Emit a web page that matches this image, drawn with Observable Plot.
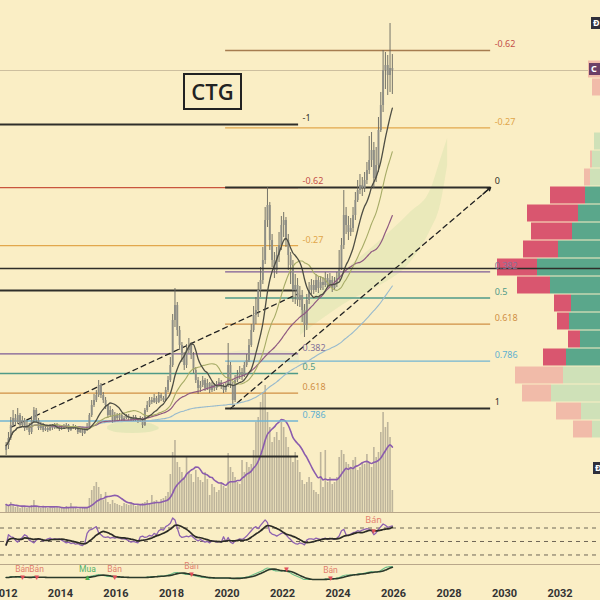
<!DOCTYPE html>
<html><head><meta charset="utf-8">
<script src="https://cdn.jsdelivr.net/npm/d3@7"></script>
<script src="https://cdn.jsdelivr.net/npm/@observablehq/plot@0.6"></script>
<style>
body{margin:0;background:#FAEEC5;}
#wrap{position:relative;width:600px;height:600px;overflow:hidden;background:#FAEEC5;font-family:"Noto Sans",Roboto,sans-serif;}
.sep{position:absolute;left:0;width:600px;height:1px;background:#b9a78a;}
.tag{position:absolute;left:590px;width:30px;height:12px;font:bold 9px "Noto Sans",sans-serif;color:#fff;padding-left:2px;line-height:12px;}
#title{position:absolute;left:183px;top:73px;width:55px;height:33px;border:2px solid #222;font:600 22px "Open Sans",sans-serif;color:#222;text-align:center;line-height:33px;}
</style></head><body>
<div id="wrap"><div id="title">CTG</div></div>
<script>
// ---------- DATA (monthly, Jan 2012 .. Dec 2025) ----------
const startYear = 2012;
const firstOpen = 6.2;
const closes = [
 6.7,7.4,8.7,9.4,9.0,9.7,8.7,9.2,8.4,8.7,8.0,9.2,
 10.2,9.2,8.4,8.7,8.2,8.4,8.2,8.6,8.4,8.7,8.5,8.3,
 8.4,8.5,8.7,8.2,8.4,8.6,8.4,8.0,8.2,7.9,8.2,8.4,
 9.7,10.7,11.2,11.7,12.7,11.7,11.2,10.7,9.7,10.2,9.2,9.7,
 9.4,9.7,9.2,9.4,9.6,9.4,9.2,9.5,9.3,9.1,9.4,8.7,
 10.2,10.7,11.2,11.0,11.4,11.0,11.7,11.4,11.2,12.2,13.2,14.7,
 19.2,20.7,18.2,16.7,15.7,14.7,16.2,16.7,15.7,14.2,13.2,12.4,
 12.7,13.2,12.4,12.9,12.2,12.7,12.4,12.8,13.0,12.6,12.2,12.7,
 14.7,12.7,11.2,13.2,13.7,14.0,13.7,14.7,15.2,16.7,18.2,19.7,
 20.2,22.2,23.2,25.2,29.2,30.7,27.2,25.2,24.2,25.7,26.7,28.7,
 29.2,27.2,25.7,24.7,22.2,22.7,21.2,21.7,20.2,18.7,21.2,22.2,
 22.7,22.2,23.2,22.4,23.0,22.7,23.4,22.7,23.2,22.4,22.9,23.4,
 24.4,26.7,29.7,28.7,28.0,28.4,29.7,31.2,32.2,32.7,32.4,33.2,
 34.2,35.2,36.2,33.4,34.7,38.2,40.7,44.2,44.7,43.7,44.4,44.2];
const highs = [
 7.0,8.0,9.5,10.2,9.8,10.4,9.9,9.6,9.4,9.1,8.9,9.6,
 10.5,10.4,9.4,9.0,8.9,8.7,8.6,8.8,8.8,8.9,8.9,8.7,
 8.6,8.8,8.9,8.8,8.6,8.8,8.7,8.5,8.4,8.3,8.4,8.9,
 9.9,11.2,11.8,12.2,13.2,12.9,12.0,11.5,10.8,10.6,10.3,10.0,
 9.9,9.9,9.8,9.6,9.8,9.8,9.5,9.7,9.7,9.4,9.6,9.5,
 10.4,11.1,11.5,11.5,11.8,11.6,12.0,11.9,11.6,12.5,13.6,15.5,
 19.8,22.4,21.0,18.6,17.0,16.0,16.8,17.4,17.0,16.0,14.5,13.5,
 13.1,13.6,13.4,13.3,13.0,13.0,12.9,13.1,13.4,13.2,12.8,13.0,
 16.9,15.0,13.0,13.7,14.2,14.6,14.4,15.0,15.8,17.3,18.8,20.6,
 21.5,23.0,24.5,26.5,30.5,32.5,31.0,27.8,26.0,26.5,28.0,29.6,
 30.0,29.5,27.8,26.0,25.2,23.8,23.4,22.6,22.2,20.8,21.8,23.0,
 23.3,23.2,23.8,23.6,23.6,23.5,24.0,23.8,23.9,23.6,23.5,24.0,
 26.2,27.4,32.2,30.5,29.6,29.4,30.5,32.0,33.2,33.8,33.5,34.0,
 35.0,37.6,38.0,37.0,36.5,39.5,42.0,46.2,46.0,45.7,48.9,45.8];
const lows = [
 5.7,6.3,7.2,8.5,8.6,8.8,8.4,8.5,8.1,8.2,7.7,7.8,
 9.0,9.0,8.2,8.2,8.0,8.1,8.0,8.1,8.2,8.3,8.3,8.1,
 8.2,8.3,8.4,8.0,8.1,8.3,8.2,7.8,7.9,7.6,7.8,8.1,
 8.3,9.5,10.5,11.0,11.5,11.4,10.9,10.3,9.4,9.5,8.9,9.0,
 9.1,9.2,9.0,9.1,9.3,9.2,9.0,9.1,9.1,8.9,9.0,8.4,
 8.6,10.0,10.5,10.8,10.9,10.8,10.9,11.1,11.0,11.1,12.0,13.0,
 14.5,18.5,17.6,16.2,15.0,14.2,14.4,15.9,15.3,13.9,12.9,11.8,
 12.0,12.5,12.1,12.2,11.9,12.0,12.1,12.2,12.6,12.3,11.9,12.0,
 12.5,12.4,10.4,11.0,13.0,13.3,13.2,13.5,14.5,15.0,16.5,18.0,
 18.8,19.5,21.5,22.8,24.8,28.5,26.2,24.5,23.4,23.8,25.0,26.2,
 27.5,26.5,24.2,22.8,21.0,20.8,20.6,20.5,19.0,17.5,18.2,20.8,
 21.8,21.8,22.0,21.9,22.2,22.2,22.5,22.4,22.5,22.0,22.2,22.5,
 23.2,24.2,26.3,27.8,27.2,27.6,28.0,29.2,31.0,31.8,31.6,32.0,
 32.8,33.8,34.5,32.4,33.0,34.0,38.0,40.0,42.3,41.7,42.0,41.8];
const volumes = [
 8,6,10,7,5,6,4,5,6,4,5,7,
 12,6,5,4,6,5,4,5,4,6,5,4,
 5,4,6,5,9,4,5,3,4,5,4,5,
 14,22,26,30,25,18,12,20,10,8,12,9,
 8,7,6,9,8,7,10,9,6,8,7,9,
 10,12,9,17,11,12,10,13,14,16,20,38,
 60,72,50,45,40,35,55,40,38,30,42,35,
 32,30,40,33,17,28,25,20,22,30,26,24,
 59,45,40,35,30,28,52,40,50,45,48,62,
 90,95,110,120,127,100,85,70,75,80,72,90,
 85,75,65,55,50,60,52,40,32,28,30,35,
 30,22,20,18,60,25,62,30,35,28,30,35,
 55,62,58,50,48,45,52,55,42,45,50,48,
 58,50,45,65,55,60,80,100,85,90,75,22];
const rsiValues = [
 45,60,57,56,52,49,53,56,60,58,52,50,
 48,52,54,53,51,52,54,55,53,54,53,54,
 52,50,48,49,47,48,46,47,45,44,47,62,
 67,68,70,72,63,60,57,56,57,55,56,55,
 56,55,54,54,53,51,49,50,49,48,57,58,
 56,57,59,58,62,60,66,68,67,72,74,77,
 85,82,70,59,56,57,58,57,59,56,53,51,
 53,51,49,50,48,51,50,49,50,49,57,50,
 56,49,47,51,52,54,53,55,58,62,66,70,
 72,69,74,78,82,78,64,61,60,58,60,62,
 63,60,56,53,49,47,46,48,47,45,52,54,
 54,53,55,54,53,54,55,53,55,54,53,55,
 58,66,68,60,59,61,63,64,66,65,67,68,
 69,68,66,60,63,68,72,76,74,71,72,73];
const macdValues = [
 0,0,1,1,1,0.5,0,0,0.5,0,0,0,
 1,0.5,0,0,0,0,0,0,0,0,0,0,
 0,0,0,0,0,0,0,0,0,0,0,0.5,
 1,1.5,2,2.5,3,2.5,2,1.5,1,1,0.5,0.5,
 0.5,0.5,0,0,0,0,0,0,0,0,0,0,
 0,0.5,0.5,1,1,1,1.5,1.5,1.5,2,2.5,3,
 4,5,5,4.5,4,3.5,3,3,2.5,2,1.5,1,
 0.5,0,0,-0.5,-0.5,-0.5,-0.5,-0.5,-0.5,-0.5,-0.5,-0.5,
 -0.5,-1,-1.5,-1,-0.5,-0.5,0,0,0.5,1,2,3,
 4,5,6,7,8.5,9.5,9,8,7,6.5,6.5,6.5,
 7,6.5,5.5,4.5,3,2,1,0,-1,-2,-2,-2,
 -2,-2,-2,-2,-2,-2,-1.5,-1.5,-1.5,-1,-1,-0.5,
 0,1,2,2.5,2.5,2.5,3,3,3.5,4,4,4.5,
 5,5.5,6,5.5,5.5,6,7,8.5,10,10.5,11,11];

// Fibonacci tools (anchor prices: level 0 / level 1)
const fibLevelsLeft  = [-1,-0.62,-0.27,0,0.382,0.5,0.618,0.786,1];
const fibLabelsLeft  = ["-1","-0.62","-0.27","","0.382","0.5","0.618","0.786",""];
const fibLevelsRight = [-0.62,-0.27,0,0.382,0.5,0.618,0.786,1];
const fibLabelsRight = ["-0.62","-0.27","0","0.382","0.5","0.618","0.786","1"];
const leftFib  = {p0: 22.2, p1: 5.6,  t1: 2011.5,  t2: 2022.58};
const rightFib = {p0: 32.5, p1: 10.4, t1: 2019.95, t2: 2029.5};
const fibColor = {"-1":"#2e2e2a","-0.62":"#c9553d","-0.27":"#e2a74c","0":"#2e2e2a","0.382":"#7d5b96","0.5":"#4f9a88","0.618":"#cf8f45","0.786":"#72b4d2","1":"#2e2e2a"};
const fibLabelColor = {"-1":"#2e2e2a","-0.62":"#c4504a","-0.27":"#e0a54a","0":"#2e2e2a","0.382":"#84739a","0.5":"#4f9a88","0.618":"#d08f45","0.786":"#5fb0d0","1":"#2e2e2a"};

// trend lines
const trendUpper = [{t: 2012.2, p: 8.5}, {t: 2022.55, p: 21.85}];
const trendLower = [{t: 2020.13, p: 10.4}, {t: 2029.5, p: 32.5}];

// shaded zones
const zoneCone = {t:[2022.65,2023.37,2024.45,2025.53,2026.61,2027.33,2027.69,2027.95], lo:[17.7,19.2,21.2,22.7,25.0,28.2,30.7,34.7], hi:[20.2,22.2,24.7,27.2,30.0,32.2,35.2,37.4]};
const zone2016 = {t:[2015.7,2016.0,2016.6,2017.2,2017.55], lo:[8.3,8.0,7.9,8.0,8.3], hi:[8.6,8.9,9.0,8.9,8.5]};
const zone2020 = {t:[2020.1,2020.8,2021.6,2022.6], lo:[14.9,14.9,14.9,14.8], hi:[16.0,16.2,16.2,16.0]};

// volume profile
const profBin = 1.8;
const profLow  = [43.4,41.6,36.2,34.4,32.6,30.8,29.0,27.2,25.4,23.6,21.8,20.0,18.2,16.4,14.6,12.8,11.0,9.2,7.4];
const profSell = [12,8,0,2,6,35,51,41,35,40,33,17,12,12,23,48,29,25,19];
const profBuy  = [0,0,6,8,10,15,22,28,42,63,50,29,31,20,34,37,49,19,8];
const profVA   = [0,0,0,0,0,1,1,1,1,1,1,1,1,1,1,0,0,0,0];
const pocPrice = 24.4;

// signals
const rsiSignals = [{t: 2025.28, v: 65, label: "Bán"}];
const macdSignals = [
 {t:2012.63, v:0, type:"sell", label:"Bán"},
 {t:2013.14, v:0, type:"sell", label:"Bán"},
 {t:2014.97, v:0, type:"buy",  label:"Mua"},
 {t:2015.95, v:0.5, type:"sell", label:"Bán"},
 {t:2018.72, v:3, type:"sell", label:"Bán"},
 {t:2022.14, v:8, type:"sell", label:""},
 {t:2023.73, v:-1, type:"sell", label:"Bán"}];
const rsiGuides = [70, 50, 30];
const xTicks = [2012,2014,2016,2018,2020,2022,2024,2026,2028,2030,2032];

// ---------- BUILD ----------
const candles = closes.map((c, i) => ({
  t: startYear + (i + 0.5) / 12,
  open: i === 0 ? firstOpen : closes[i - 1],
  close: c, high: highs[i], low: lows[i],
  vol: volumes[i], rsi: rsiValues[i], macd: macdValues[i]
}));
const lastClose = closes[closes.length - 1];

function fibRowsOf(f, levels, labels, overrides) {
  return levels.map((L, i) => {
    const k = String(L);
    return {t1: f.t1, t2: f.t2, price: f.p0 + L * (f.p1 - f.p0),
      color: (overrides && overrides[k]) || fibColor[k], lc: fibLabelColor[k],
      w: (L === 0 || L === 1 || L === -1) ? 2 : 1.3, label: labels[i]};
  });
}
const fibRows = [
  ...fibRowsOf(leftFib, fibLevelsLeft, fibLabelsLeft),
  ...fibRowsOf(rightFib, fibLevelsRight, fibLabelsRight, {"-0.62": "#a67c50"})
];
const zoneRows = z => z.t.map((t, i) => ({t, lo: z.lo[i], hi: z.hi[i]}));
const profRows = profLow.map((lo, i) => ({lo, hi: lo + profBin, sell: profSell[i], buy: profBuy[i], va: profVA[i]}));
const [ta, tb] = trendLower;
const arrowHead = [{x1: tb.t - (tb.t - ta.t) * 0.03, y1: tb.p - (tb.p - ta.p) * 0.03, x2: tb.t, y2: tb.p}];

const xDomain = [2011.838, 2033.459];
const base = {width: 600, marginLeft: 0, marginRight: 0, marginTop: 0, marginBottom: 0,
  style: {background: "transparent", fontFamily: "'Noto Sans', sans-serif"}};
const wrap = document.getElementById("wrap");
function place(svg, top) { svg.style.position = "absolute"; svg.style.top = top + "px"; svg.style.left = "0px"; wrap.appendChild(svg); }

// volume (overlay in the price pane)
place(Plot.plot({...base, height: 512,
  x: {domain: xDomain, axis: null}, y: {domain: [0, 512], axis: null},
  marks: [
    Plot.ruleX(candles, {x: "t", y: "vol", stroke: "#bdb49b", strokeWidth: 1.6}),
    Plot.lineY(candles, Plot.windowY({k: 12, anchor: "end"}, {x: "t", y: "vol", stroke: "#8b5cad", strokeWidth: 1.6, curve: "monotone-x"}))
  ]}), 0);

// price pane
place(Plot.plot({...base, height: 512,
  x: {domain: xDomain, axis: null}, y: {domain: [0, 51.2], axis: null},
  marks: [
    Plot.ruleY([lastClose], {stroke: "#cdbf9f", strokeWidth: 1}),
    Plot.areaY(zoneRows(zoneCone), {x: "t", y1: "lo", y2: "hi", fill: "#d6e2ad", fillOpacity: 0.45, curve: "monotone-x"}),
    Plot.areaY(zoneRows(zone2016), {x: "t", y1: "lo", y2: "hi", fill: "#d6e2ad", fillOpacity: 0.55, curve: "monotone-x"}),
    Plot.areaY(zoneRows(zone2020), {x: "t", y1: "lo", y2: "hi", fill: "#dfe3c4", fillOpacity: 0.5, curve: "monotone-x"}),
    Plot.ruleY(fibRows, {x1: "t1", x2: "t2", y: "price", stroke: "color", strokeWidth: "w"}),
    Plot.line(trendUpper, {x: "t", y: "p", stroke: "#222", strokeWidth: 1.3, strokeDasharray: "5,4"}),
    Plot.line(trendLower, {x: "t", y: "p", stroke: "#222", strokeWidth: 1.3, strokeDasharray: "5,4"}),
    Plot.arrow(arrowHead, {x1: "x1", y1: "y1", x2: "x2", y2: "y2", stroke: "#222", strokeWidth: 1.3, headLength: 7}),
    Plot.ruleX(candles, {x: "t", y1: "low", y2: "high", stroke: "#66665f", strokeWidth: 0.9}),
    Plot.ruleX(candles, {x: "t", y1: "open", y2: "close", stroke: "#8e8e86", strokeWidth: 1.9}),
    Plot.lineY(candles, Plot.windowY({k: 100, anchor: "end"}, {x: "t", y: "close", stroke: "#98bacd", strokeWidth: 1.1, curve: "monotone-x"})),
    Plot.lineY(candles, Plot.windowY({k: 40, anchor: "end"}, {x: "t", y: "close", stroke: "#8f5a80", strokeWidth: 1.2, curve: "monotone-x"})),
    Plot.lineY(candles, Plot.windowY({k: 20, anchor: "end"}, {x: "t", y: "close", stroke: "#a6ab66", strokeWidth: 1.1, curve: "monotone-x"})),
    Plot.lineY(candles, Plot.windowY({k: 10, anchor: "end"}, {x: "t", y: "close", stroke: "#4e4e44", strokeWidth: 1.3, curve: "monotone-x"}))
  ]}), 0);

// volume profile
place(Plot.plot({...base, height: 512,
  x: {domain: [0, 110], range: [600, 490], axis: null}, y: {domain: [0, 51.2], axis: null},
  marks: [
    Plot.rect(profRows, {x1: d => 0, x2: "buy", y1: "lo", y2: "hi", fill: d => d.va ? "#5aa78b" : "#cfe1b8", insetTop: 0.5, insetBottom: 0.5}),
    Plot.rect(profRows, {x1: "buy", x2: d => d.buy + d.sell, y1: "lo", y2: "hi", fill: d => d.va ? "#d9566f" : "#f1bba9", insetTop: 0.5, insetBottom: 0.5})
  ]}), 0);

// overlay: POC line + fib labels
place(Plot.plot({...base, height: 512,
  x: {domain: xDomain, axis: null}, y: {domain: [0, 51.2], axis: null},
  marks: [
    Plot.ruleY([pocPrice], {stroke: "#2e2e2a", strokeWidth: 1.6}),
    Plot.text(fibRows.filter(d => d.label), {x: "t2", y: "price", text: "label", fill: "lc", textAnchor: "start", dx: 4, dy: -6, fontSize: 9})
  ]}), 0);

// RSI pane
place(Plot.plot({...base, height: 53,
  x: {domain: xDomain, axis: null}, y: {domain: [14.4, 93], axis: null},
  marks: [
    Plot.ruleY(rsiGuides, {stroke: "#5f574a", strokeDasharray: "4,4", strokeWidth: 0.9}),
    Plot.lineY(candles, {x: "t", y: "rsi", stroke: "#8e62b0", strokeWidth: 1.3}),
    Plot.lineY(candles, Plot.windowY({k: 8, anchor: "end"}, {x: "t", y: "rsi", stroke: "#2b2b25", strokeWidth: 1.7, curve: "monotone-x"})),
    Plot.text(rsiSignals, {x: "t", y: "v", text: d => "▼", fill: "#e0505a", fontSize: 8}),
    Plot.text(rsiSignals, {x: "t", y: "v", text: "label", fill: "#e2806e", fontSize: 9, dy: -11})
  ]}), 512);

// MACD-like pane + x axis (panel spans 565..585)
place(Plot.plot({...base, height: 41, marginTop: 6, marginBottom: 15,
  style: {background: "transparent", fontFamily: "Roboto, 'Noto Sans', sans-serif", fontSize: "11px", fontWeight: "bold", color: "#333"},
  x: {domain: xDomain, ticks: xTicks, tickFormat: d => String(d), tickSize: 0, tickPadding: 4, label: null},
  y: {domain: [-8, 12], axis: null},
  marks: [
    Plot.lineY(candles, {x: "t", y: "macd", stroke: "#6fbf8a", strokeWidth: 1.2, curve: "monotone-x"}),
    Plot.lineY(candles, Plot.windowY({k: 5, anchor: "end"}, {x: "t", y: "macd", stroke: "#2b3a2b", strokeWidth: 1.6, curve: "monotone-x"})),
    Plot.text(macdSignals, {x: "t", y: "v", text: d => d.type === "buy" ? "▲" : "▼", fill: d => d.type === "buy" ? "#4caf50" : "#e0505a", fontSize: 8, fontWeight: "normal"}),
    Plot.text(macdSignals, {x: "t", y: "v", text: "label", fill: d => d.type === "buy" ? "#55b36a" : "#e2806e", fontSize: 8.5, fontWeight: "normal", dy: -8})
  ]}), 559);

// separators and right-edge tags
[512, 564].forEach(y => { const d = document.createElement("div"); d.className = "sep"; d.style.top = y + "px"; wrap.appendChild(d); });
[["Đ", 17, 591, "#2f2f3b"], ["C", 63, 589, "#6b3f66"], ["Đ", 462, 593, "#2f2f3b"]].forEach(([txt, top, left, bg]) => {
  const d = document.createElement("div"); d.className = "tag"; d.textContent = txt;
  d.style.top = top + "px"; d.style.left = left + "px"; d.style.background = bg; wrap.appendChild(d);
});
</script>
</body></html>
